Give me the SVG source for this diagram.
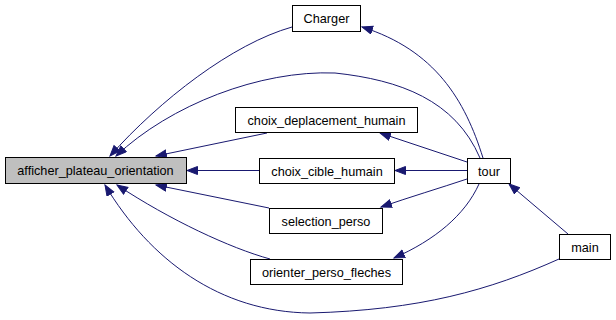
<svg xmlns="http://www.w3.org/2000/svg" width="616" height="320" viewBox="0 0 616 320">
  <style>
    .node rect { fill: #ffffff; stroke: #000000; stroke-width: 1; }
    .node.focus rect { fill: #bfbfbf; }
    .node text { font-family: "Liberation Sans", Arial, sans-serif; font-size: 12.7px; fill: #000000; text-anchor: middle; }
    .edges path { fill: none; stroke: #191970; stroke-width: 1; marker-end: url(#arrow); }
  </style>
  <defs>
    <marker id="arrow" markerUnits="userSpaceOnUse" markerWidth="13" markerHeight="10" refX="11" refY="4.5" orient="auto">
      <path d="M0.5,0.5 L11,4.5 L0.5,8.5 Z" fill="#191970" stroke="#191970" stroke-width="1"/>
    </marker>
  </defs>
  <rect width="616" height="320" fill="#ffffff"/>

  <g class="edges">
    <!-- callers of afficher_plateau_orientation -->
    <path d="M292,27 C232,44 160,100 110,156"/>
    <path d="M480,158 C455,100 400,80 335,73 C260,70 170,105 116,156"/>
    <path d="M267,133 L156,156"/>
    <path d="M259,170.5 L187,170.5"/>
    <path d="M269,208 L156,185"/>
    <path d="M270,259 C230,248 170,220 117,185"/>
    <path d="M559,259 C490,290 420,310 310,313 C220,312 150,260 105,185"/>
    <!-- callers from tour -->
    <path d="M483,158 C465,100 435,50 362,27"/>
    <path d="M467,162 L380,133"/>
    <path d="M467,170.5 L395,170.5"/>
    <path d="M467,179 C440,188 410,197 381,207"/>
    <path d="M479,184 C465,215 435,240 394,258"/>
    <!-- main calls tour -->
    <path d="M568,234 L509,184"/>
  </g>

  <g id="afficher_plateau_orientation" class="node focus">
    <rect x="5.5" y="157.5" width="181" height="26"/>
    <text x="95.5" y="175">afficher_plateau_orientation</text>
  </g>
  <g id="Charger" class="node">
    <rect x="292.5" y="5.5" width="68" height="26"/>
    <text x="326.5" y="23">Charger</text>
  </g>
  <g id="choix_deplacement_humain" class="node">
    <rect x="235.5" y="107.5" width="182" height="25"/>
    <text x="326.5" y="124.5">choix_deplacement_humain</text>
  </g>
  <g id="choix_cible_humain" class="node">
    <rect x="259.5" y="158.5" width="135" height="25"/>
    <text x="327" y="175.5">choix_cible_humain</text>
  </g>
  <g id="selection_perso" class="node">
    <rect x="269.5" y="208.5" width="113" height="25"/>
    <text x="326" y="225.5">selection_perso</text>
  </g>
  <g id="orienter_perso_fleches" class="node">
    <rect x="250.5" y="259.5" width="152" height="25"/>
    <text x="326.5" y="276.5">orienter_perso_fleches</text>
  </g>
  <g id="tour" class="node">
    <rect x="467.5" y="158.5" width="43" height="25"/>
    <text x="489" y="175.5">tour</text>
  </g>
  <g id="main" class="node">
    <rect x="559.5" y="234.5" width="51" height="25"/>
    <text x="585" y="251.5">main</text>
  </g>
</svg>
